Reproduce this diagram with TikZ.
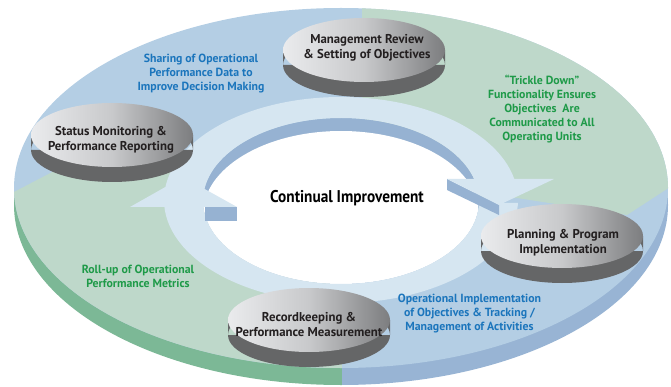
\documentclass[tikz,border=0pt]{standalone}
\usepackage{xcolor}
\usepackage{fontspec}
\usepackage{tikz}
\usetikzlibrary{shapes.geometric}
\setmainfont{PT Sans}
\newfontfamily\titlefont[FakeStretch=0.9]{PT Sans}

\definecolor{discblue}{HTML}{B4CEE4}
\definecolor{discgreen}{HTML}{BED8CA}
\definecolor{sideblue}{HTML}{98B4D4}
\definecolor{sidegreen}{HTML}{7CB896}
\definecolor{ringlight}{HTML}{D6E6F1}
\definecolor{ringdark}{HTML}{96B2D2}
\definecolor{platterlight}{HTML}{EAEBED}
\definecolor{plattermid}{HTML}{C8C9CB}
\definecolor{platterdark}{HTML}{7C7D7F}
\definecolor{platterside}{HTML}{656667}
\definecolor{textblue}{HTML}{1B75BC}
\definecolor{textgreen}{HTML}{1E9A48}
\definecolor{textdark}{HTML}{231F20}

\begin{document}
\begin{tikzpicture}[x=1pt, y=-1pt,
    platter/.style={ellipse, minimum width=162pt, minimum height=64pt, inner sep=0pt, left color=platterlight, right color=platterdark, middle color=plattermid},
    plattertext/.style={align=center, font=\bfseries\fontsize{12.8}{15}\selectfont, text=textdark},
    bluenote/.style={align=center, font=\bfseries\fontsize{11.8}{13.6}\selectfont, text=textblue},
    greennote/.style={align=center, font=\bfseries\fontsize{11.8}{13.8}\selectfont, text=textgreen}]
    \useasboundingbox (0,0) rectangle (671,387);

    % Disc edge
    \begin{scope}
        \clip (0,0) rectangle (342,400);
        \fill[sidegreen] (341,205) ellipse [x radius=327, y radius=180];
    \end{scope}
    \begin{scope}
        \clip (342,0) rectangle (680,400);
        \fill[sideblue] (341,205) ellipse [x radius=327, y radius=180];
    \end{scope}

    % Disc top, four sectors
    \begin{scope}
        \clip (341,188) ellipse [x radius=327, y radius=180];
        \fill[discblue] (0,0) rectangle (671,387);
        \fill[discgreen] (362,-10) -- (700,-10) -- (700,167) -- (670,187) -- (627,215) -- (517,198) -- (341,200) -- (362,100) -- cycle;
        \fill[discgreen] (342,400) -- (-10,400) -- (-10,198) -- (14,192) -- (60,168) -- (190,172) -- (200,190) -- (341,200) -- cycle;
    \end{scope}

    % Hole and inner wall
    \fill[ringdark] (341,201) ellipse [x radius=138, y radius=83];
    \begin{scope}
        \clip (341,201) ellipse [x radius=138, y radius=83];
        \fill[white] (341,214) ellipse [x radius=138, y radius=83];
    \end{scope}

    % Upper arrow
    \begin{scope}
        \clip (0,0) -- (0,200) -- (341,200) -- (341,180) -- (680,180) -- (680,0) -- cycle;
        \fill[ringlight, even odd rule] (341,200) ellipse [x radius=177, y radius=103] (341,201) ellipse [x radius=138, y radius=83];
    \end{scope}
    % Lower arrow
    \begin{scope}
        \clip (0,400) -- (0,207) -- (341,207) -- (341,203) -- (680,203) -- (680,400) -- cycle;
        \fill[ringlight, even odd rule] (341,200) ellipse [x radius=177, y radius=103] (341,201) ellipse [x radius=138, y radius=83];
    \end{scope}

    % Arrow heads
    \fill[ringdark] (447,179) -- (499,205) -- (499,215) -- (447,190) -- cycle;
    \fill[ringlight] (447,179) -- (554,179) -- (499,205) -- cycle;
    \fill[ringdark] (205,207) rectangle (237,221);
    \fill[ringlight] (130,207) -- (183,177) -- (237,207) -- cycle;

    % Platters
    \fill[platterside] (283,50) rectangle (445,65) (364,65) ellipse [x radius=81, y radius=32];
    \node[platter] (review) at (364,50) {};
    \fill[platterside] (31,135) rectangle (193,150) (112,150) ellipse [x radius=81, y radius=32];
    \node[platter] (status) at (112,135) {};
    \fill[platterside] (481,236) rectangle (643,251) (562,251) ellipse [x radius=81, y radius=32];
    \node[platter] (planning) at (562,236) {};
    \fill[platterside] (228,320) rectangle (390,335) (309,335) ellipse [x radius=81, y radius=32];
    \node[platter] (records) at (309,320) {};

    % Platter labels
    \node[plattertext, xshift=3pt, yshift=2.5pt] (review-text) at (review) {Management Review\\\& Setting of Objectives};
    \node[plattertext, xshift=-1pt, yshift=-4.5pt] (status-text) at (status) {Status Monitoring \&\\Performance Reporting};
    \node[plattertext, xshift=1pt, yshift=-6.5pt] (planning-text) at (planning) {Planning \& Program\\Implementation};
    \node[plattertext, yshift=-4.5pt] (records-text) at (records) {Recordkeeping \&\\Performance Measurement};

    % Notes on the disc
    \node[bluenote] (sharing) at (201,73.5) {Sharing of Operational\\Performance Data to\\Improve Decision Making};
    \node[greennote] (trickle) at (542,109) {“Trickle Down”\\Functionality Ensures\\Objectives~ Are\\Communicated to All\\Operating Units};
    \node[greennote] (rollup) at (138,276.5) {Roll-up of Operational\\Performance Metrics};
    \node[bluenote] (tracking) at (469.5,313.5) {Operational Implementation\\of Objectives \& Tracking /\\Management of Activities};

    % Centre
    \node[font=\titlefont\bfseries\fontsize{17}{19}\selectfont] (continual) at (347,198) {Continual Improvement};
\end{tikzpicture}
\end{document}
